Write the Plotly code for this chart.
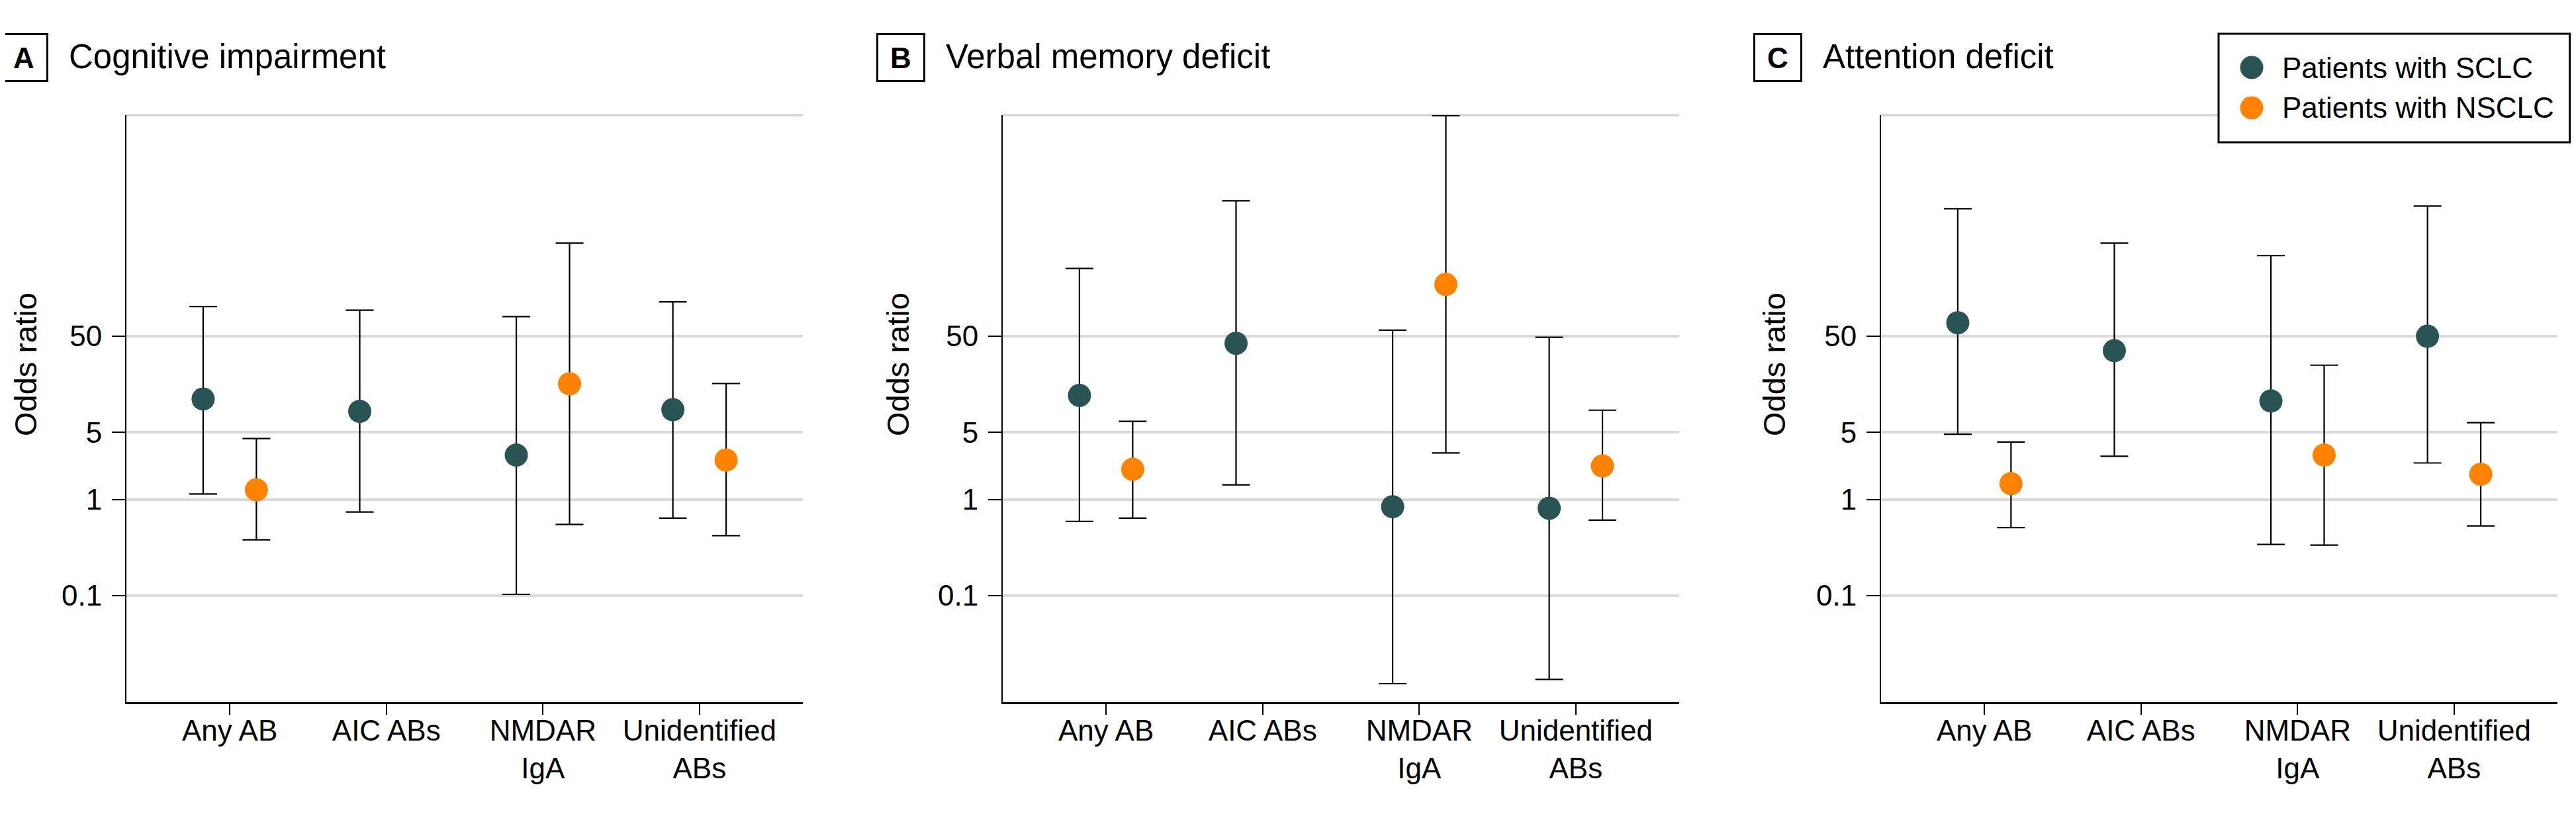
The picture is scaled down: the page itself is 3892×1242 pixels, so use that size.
import plotly.graph_objects as go

# ---------------- data ----------------
categories = ["Any AB", "AIC ABs", "NMDAR<br>IgA", "Unidentified<br>ABs"]
panel_letters = ["A", "B", "C"]
panel_titles = ["Cognitive impairment", "Verbal memory deficit", "Attention deficit"]
series_names = ["Patients with SCLC", "Patients with NSCLC"]
y_tickvals = [0.1, 1, 5, 50]
y_ticktext = ["0.1", "1", "5", "50"]

# Panel A: Cognitive impairment
a_sclc_or = [11.1, 8.26, 2.9, 8.6]
a_sclc_lo = [1.14, 0.74, 0.103, 0.64]
a_sclc_hi = [102, 93.5, 80, 114]
a_nsclc_or = [1.26, None, 16.0, 2.57]
a_nsclc_lo = [0.38, None, 0.55, 0.42]
a_nsclc_hi = [4.31, None, 466, 16.1]

# Panel B: Verbal memory deficit
b_sclc_or = [12.1, 42.2, 0.84, 0.81]
b_sclc_lo = [0.59, 1.42, 0.0121, 0.0134]
b_sclc_hi = [254, 1285, 57.8, 48.8]
b_nsclc_or = [2.06, None, 173, 2.23]
b_nsclc_lo = [0.64, None, 3.05, 0.61]
b_nsclc_hi = [6.5, None, 9900, 8.5]

# Panel C: Attention deficit
c_sclc_or = [69, 35.4, 10.6, 50]
c_sclc_lo = [4.77, 2.82, 0.34, 2.4]
c_sclc_hi = [1062, 466, 345, 1133]
c_nsclc_or = [1.46, None, 2.9, 1.83]
c_nsclc_lo = [0.51, None, 0.335, 0.53]
c_nsclc_hi = [3.96, None, 25, 6.3]

panels = [
    (a_sclc_or, a_sclc_lo, a_sclc_hi, a_nsclc_or, a_nsclc_lo, a_nsclc_hi),
    (b_sclc_or, b_sclc_lo, b_sclc_hi, b_nsclc_or, b_nsclc_lo, b_nsclc_hi),
    (c_sclc_or, c_sclc_lo, c_sclc_hi, c_nsclc_or, c_nsclc_lo, c_nsclc_hi),
]

# ---------------- layout geometry (page pixels) ----------------
PAGE_W, PAGE_H = 3892, 1242
OFF = 8                      # default body margin of the html page
W, H = PAGE_W - 2 * OFF, PAGE_H - 2 * OFF


def px(x):
    return (x - OFF) / W


def py(y):
    return 1 - (y - OFF) / H


FONT = "Liberation Sans"
COL_SCLC = "#2a5453"
COL_NSCLC = "#ff8200"
OFFSET = 0.17
x_domains_px = [(191, 1213), (1515, 2537), (2842, 3864)]
y_top_px, y_bot_px = 174, 1061
box_cx = [36, 1361, 2686]
title_x = [102, 1427, 2752]
ytitle_cx = [39, 1357, 2681]


def err(v, lo, hi):
    plus = [None if p is None else h - p for p, h in zip(v, hi)]
    minus = [None if p is None else p - l for p, l in zip(v, lo)]
    return plus, minus


fig = go.Figure()
shapes = []
annotations = []

for k, (s_or, s_lo, s_hi, n_or, n_lo, n_hi) in enumerate(panels):
    ax = "" if k == 0 else str(k + 1)
    xs_s = [i - OFFSET for i in range(len(categories))]
    xs_n = [i + OFFSET for i in range(len(categories))]
    for xs, vals, lo, hi, col, name in [
        (xs_s, s_or, s_lo, s_hi, COL_SCLC, series_names[0]),
        (xs_n, n_or, n_lo, n_hi, COL_NSCLC, series_names[1]),
    ]:
        plus, minus = err(vals, lo, hi)
        fig.add_trace(go.Scatter(
            x=xs, y=vals, mode="markers", name=name, showlegend=False,
            xaxis="x" + ax, yaxis="y" + ax,
            marker=dict(size=35, color=col, line=dict(width=0)),
            error_y=dict(type="data", symmetric=False, array=plus, arrayminus=minus,
                         color="black", thickness=2.2, width=21),
        ))

    d0, d1 = x_domains_px[k]
    fig.layout["xaxis" + ax] = dict(
        domain=[px(d0), px(d1)], range=[-0.66, 3.66], anchor="y" + ax,
        tickvals=list(range(len(categories))), ticktext=categories,
        ticks="outside", ticklen=16, tickwidth=2, tickcolor="black",
        ticklabelstandoff=-14,
        showline=True, linecolor="black", linewidth=2.5,
        showgrid=False, zeroline=False,
        tickfont=dict(family=FONT, size=44, color="black"),
    )
    fig.layout["yaxis" + ax] = dict(
        domain=[py(y_bot_px), py(y_top_px)], type="log", range=[-2.11, 4.0], anchor="x" + ax,
        tickvals=y_tickvals, ticktext=y_ticktext,
        ticks="outside", ticklen=20, tickwidth=2, tickcolor="black",
        ticklabelstandoff=6,
        showline=True, linecolor="black", linewidth=2,
        showgrid=True, gridcolor="#d9d9d9", gridwidth=4, zeroline=False,
        tickfont=dict(family=FONT, size=44, color="black"),
    )
    xd = "x" + ax + " domain"
    yd = "y" + ax + " domain"
    # top gridline of the plot area
    shapes.append(dict(type="line", xref=xd, yref=yd, x0=0, x1=1, y0=1, y1=1,
                       line=dict(color="#d9d9d9", width=4), layer="below"))
    # reference line at OR = 1
    shapes.append(dict(type="line", xref=xd, yref="y" + ax, x0=0, x1=1, y0=1, y1=1,
                       line=dict(color="white", width=5), layer="below"))
    shapes.append(dict(type="line", xref=xd, yref="y" + ax, x0=0, x1=1, y0=1, y1=1,
                       line=dict(color="black", width=2, dash="dash"), layer="below"))
    # panel letter box and title
    annotations.append(dict(
        xref="paper", yref="paper", x=px(box_cx[k]), y=py(87), xanchor="center", yanchor="middle",
        text="<b>" + panel_letters[k] + "</b>", showarrow=False,
        font=dict(family=FONT, size=44, color="black"),
        width=66, height=66, borderwidth=3, bordercolor="black", borderpad=1, align="center",
    ))
    annotations.append(dict(
        xref="paper", yref="paper", x=px(title_x[k]), y=py(85), xanchor="left", yanchor="middle",
        text=panel_titles[k], showarrow=False,
        font=dict(family=FONT, size=51, color="black"),
    ))
    # y-axis title
    annotations.append(dict(
        xref="paper", yref="paper", x=px(ytitle_cx[k]), y=py(551), xanchor="center", yanchor="middle",
        text="Odds ratio", textangle=-90, showarrow=False,
        font=dict(family=FONT, size=47, color="black"),
    ))

# ---------------- legend (box with symbols) ----------------
shapes.append(dict(type="rect", xref="paper", yref="paper",
                   x0=px(3352), x1=1 - 1.5 / W, y0=py(215), y1=py(51),
                   line=dict(color="black", width=3), fillcolor="white", layer="above"))
for row, (name, col) in enumerate([(series_names[0], COL_SCLC), (series_names[1], COL_NSCLC)]):
    cy = 102 + 61 * row
    shapes.append(dict(type="circle", xref="paper", yref="paper",
                       x0=px(3402 - 17.5), x1=px(3402 + 17.5),
                       y0=py(cy + 17.5), y1=py(cy - 17.5),
                       line=dict(width=0), fillcolor=col, layer="above"))
    annotations.append(dict(
        xref="paper", yref="paper", x=px(3446), y=py(cy), xanchor="left", yanchor="middle",
        text=name, showarrow=False, font=dict(family=FONT, size=44, color="black"),
    ))

fig.update_layout(
    width=W, height=H, margin=dict(l=0, r=0, t=0, b=0),
    paper_bgcolor="white", plot_bgcolor="white",
    shapes=shapes, annotations=annotations, showlegend=False,
    font=dict(family=FONT, color="black"),
)

fig.write_html("out.html")
